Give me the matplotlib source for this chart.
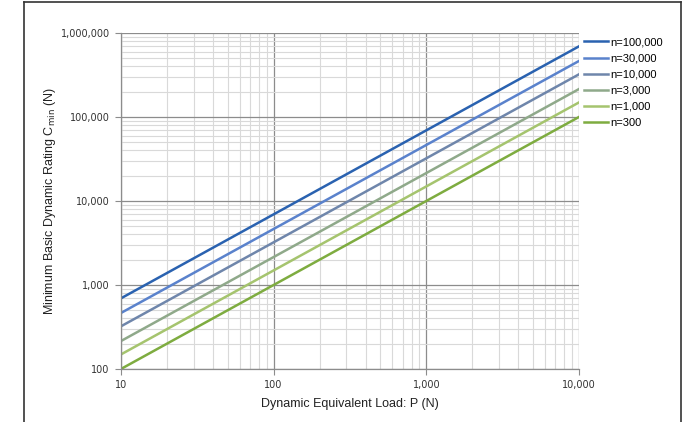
import matplotlib
matplotlib.use("Agg")
import matplotlib.pyplot as plt
from matplotlib.ticker import LogLocator, FuncFormatter, NullFormatter
from matplotlib.lines import Line2D

# load range (N)
P = [10, 10000]

# minimum basic dynamic rating read at P=10 and P=10,000
labels = ["n=100,000", "n=30,000", "n=10,000", "n=3,000", "n=1,000", "n=300"]
c_100000 = [693, 693000]
c_30000 = [464, 464000]
c_10000 = [322, 322000]
c_3000 = [215, 215000]
c_1000 = [149, 149000]
c_300 = [100, 100000]
series = [c_100000, c_30000, c_10000, c_3000, c_1000, c_300]
colors = ["#2a62b0", "#5a82cc", "#6f86ab", "#8fa98a", "#a5c46e", "#7eac40"]

plt.rcParams['font.family'] = ['Liberation Sans', 'DejaVu Sans']

fig = plt.figure(figsize=(6.91, 4.22), dpi=100)
ax = fig.add_axes([0.175, 0.1256, 0.663, 0.7964])

for vals, lab, col in zip(series, labels, colors):
    ax.plot(P, vals, color=col, lw=1.8, label=lab)

ax.set_xscale('log')
ax.set_yscale('log')
ax.set_xlim(10, 10000)
ax.set_ylim(100, 1000000)

ax.xaxis.set_minor_locator(LogLocator(base=10, subs=range(2, 10)))
ax.yaxis.set_minor_locator(LogLocator(base=10, subs=range(2, 10)))
ax.xaxis.set_minor_formatter(NullFormatter())
ax.yaxis.set_minor_formatter(NullFormatter())
fmt = FuncFormatter(lambda v, p: "{:,.0f}".format(v))
ax.xaxis.set_major_formatter(fmt)
ax.yaxis.set_major_formatter(fmt)

ax.grid(True, which='major', color='#8c8c8c', lw=0.9)
ax.grid(True, which='minor', color='#d9d9d9', lw=0.8)
ax.set_axisbelow(True)

for lbl in ax.get_xticklabels() + ax.get_yticklabels():
    lbl.set_fontfamily('DejaVu Sans')
    lbl.set_fontsize(7)
    lbl.set_color('#333333')
ax.tick_params(which='major', length=4, width=0.8, color='#8c8c8c', pad=4)
ax.tick_params(which='minor', length=0)
for s in ['top', 'right']:
    ax.spines[s].set_visible(False)
for s in ['left', 'bottom']:
    ax.spines[s].set_color('#8c8c8c')
    ax.spines[s].set_linewidth(0.9)

ax.set_xlabel('Dynamic Equivalent Load: P (N)', fontsize=9, color='#222222', labelpad=6)
ax.set_ylabel(r'Minimum Basic Dynamic Rating C$_{\mathrm{min}}$ (N)', fontsize=9,
              color='#222222', labelpad=2)

ax.legend(loc='upper left', bbox_to_anchor=(1.0, 1.0), frameon=False, fontsize=8,
          handlelength=2.2, handletextpad=0.25, labelspacing=0.55, borderaxespad=0.2,
          borderpad=0.2)

# outer frame
fig.add_artist(Line2D([0.035, 0.035], [0, 0.995], color='#333333', lw=1.2))
fig.add_artist(Line2D([0.035, 0.9855], [0.995, 0.995], color='#333333', lw=1.2))
fig.add_artist(Line2D([0.9855, 0.9855], [0, 0.995], color='#333333', lw=1.2))

fig.savefig('out.png', dpi=100)
